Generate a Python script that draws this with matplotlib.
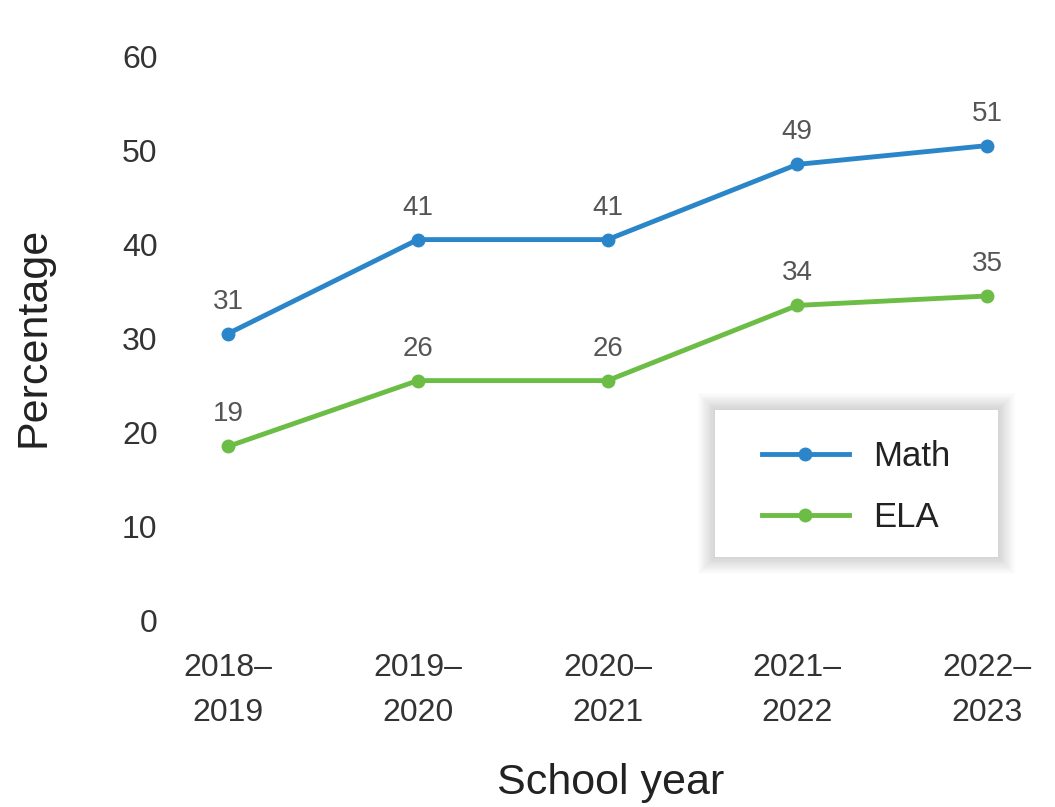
import matplotlib.pyplot as plt
from matplotlib.patches import Rectangle
from matplotlib.transforms import ScaledTranslation

plt.rcParams['font.family'] = ['Liberation Sans', 'DejaVu Sans']

years = ['2018–\n2019', '2019–\n2020', '2020–\n2021', '2021–\n2022', '2022–\n2023']
math_vals = [31, 41, 41, 49, 51]
ela_vals = [19, 26, 26, 34, 35]

blue = '#2b86c9'
green = '#6cbd45'

W, H = 1055, 807
fig = plt.figure(figsize=(W/100, H/100), dpi=100)
# axes box: left 170px, bottom 625px, top 61px (from top)
ax = fig.add_axes([170/W, 1-625/H, 870/W, 564/H])

x = list(range(len(years)))
ax.plot(x, math_vals, color=blue, lw=3.5, marker='o', ms=9, label='Math')
ax.plot(x, ela_vals, color=green, lw=3.5, marker='o', ms=9, label='ELA')

for vals in (math_vals, ela_vals):
    for xi, v in zip(x, vals):
        ax.annotate(str(v), (xi, v), xytext=(0, 23), textcoords='offset points',
                    ha='center', va='center', fontsize=20, color='#555555')

ax.set_xlim(-0.306, 4.279)
ax.set_ylim(0, 60)
ax.set_yticks(range(0, 61, 10))
ax.set_xticks(x)
ax.set_xticklabels(years, linespacing=1.65)
ax.tick_params(length=0, labelcolor='#333333')
ax.tick_params(axis='y', pad=9, labelsize=23)
ax.tick_params(axis='x', pad=20, labelsize=23)
# y tick labels sit a few pixels above their values in the original
up = ScaledTranslation(0, 3/72, fig.dpi_scale_trans)
for lab in ax.get_yticklabels():
    lab.set_transform(lab.get_transform() + up)
for s in ax.spines.values():
    s.set_visible(False)

ax.set_ylabel('Percentage', fontsize=31, color='#222222')
ax.set_xlabel('School year', fontsize=31, color='#222222')
ax.yaxis.set_label_coords(-0.134, 0.51)
ax.xaxis.set_label_coords(0.507, -0.245)

# legend box with soft shadow
bx, by, bw, bh = 715, 410, 283, 147
for k in range(14, 0, -1):
    ax.add_patch(Rectangle(((bx - k*1.2)/W, 1-(by + bh + k*1.2)/H),
                           (bw + 2*k*1.2)/W, (bh + 2*k*1.2)/H,
                           transform=fig.transFigure, facecolor='black',
                           edgecolor='none', alpha=0.011, zorder=4.8,
                           clip_on=False))
ax.add_patch(Rectangle((bx/W, 1-(by + bh)/H), bw/W, bh/H,
                       transform=fig.transFigure, facecolor='white',
                       edgecolor='none', zorder=4.9, clip_on=False))

leg = ax.legend(loc='center', bbox_to_anchor=(856/W, 1-487/H),
                bbox_transform=fig.transFigure, fontsize=25, frameon=False,
                handlelength=2.5, borderpad=0.5, labelspacing=0.82,
                handletextpad=0.7, borderaxespad=0)
for t in leg.get_texts():
    t.set_color('#222222')

fig.savefig('out.png', dpi=100)
